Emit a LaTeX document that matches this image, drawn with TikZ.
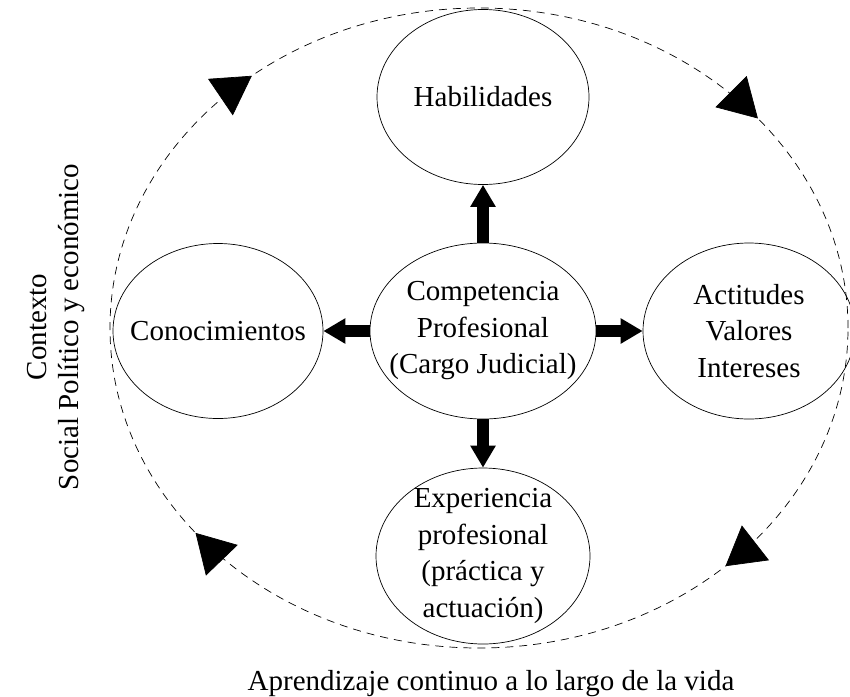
\documentclass[tikz,border=0pt]{standalone}
\usepackage{fontspec}
\setmainfont{Liberation Serif}
\usetikzlibrary{shapes.geometric, arrows.meta, decorations.markings}

\begin{document}
\begin{tikzpicture}[x = 1pt, y = -1pt, > = {Triangle[length = 22pt, width = 24pt]},
	every node/.style = {font = \fontsize{29}{36.5}\selectfont, align = center},
	oval/.style = {draw, ellipse, line width = 0.7pt, inner sep = -14pt},
	push/.style = {->, line width = 12pt}]

	\useasboundingbox (0, 0) rectangle (850, 696);

	% Context ring + turning arrows

	\draw [dash pattern = on 8pt off 6pt, line width = 0.7pt, postaction = {decorate},
		decoration = {markings,
			mark = at position 0.108 with {\arrowreversed{Triangle[length = 38pt, width = 44pt]}},
			mark = at position 0.361 with {\arrowreversed{Triangle[length = 38pt, width = 44pt]}},
			mark = at position 0.605 with {\arrowreversed{Triangle[length = 38pt, width = 44pt]}},
			mark = at position 0.872 with {\arrowreversed{Triangle[length = 38pt, width = 44pt]}}}]
		(479, 328) ellipse [x radius = 369pt, y radius = 320pt];

	% Ovals

	\node [oval, minimum width = 212pt, minimum height = 175pt] (hab) at (483, 97) {Habilidades};
	\node [oval, minimum width = 226pt, minimum height = 176pt] (comp) at (483, 331) {Competencia\\Profesional\\(Cargo Judicial)};
	\node [oval, minimum width = 210pt, minimum height = 175pt] (conoc) at (218, 331) {Conocimientos};
	\node [oval, minimum width = 212pt, minimum height = 176pt] (actit) at (749, 331) {Actitudes\\Valores\\Intereses};
	\node [oval, minimum width = 214pt, minimum height = 176pt] (exper) at (483, 556) {Experiencia\\profesional\\(práctica y\\actuación)};

	% Block arrows

	\foreach \dest in {hab, conoc, actit, exper}
		\draw [push] (comp) -- (\dest);

	% Labels

	\node [rotate = 90, font = \fontsize{29}{32}\selectfont] (ctx) at (56, 327) {Contexto\\Social Político y económico};
	\node [anchor = base, inner sep = 0pt] (life) at (491, 690) {Aprendizaje continuo a lo largo de la vida};

\end{tikzpicture}
\end{document}
